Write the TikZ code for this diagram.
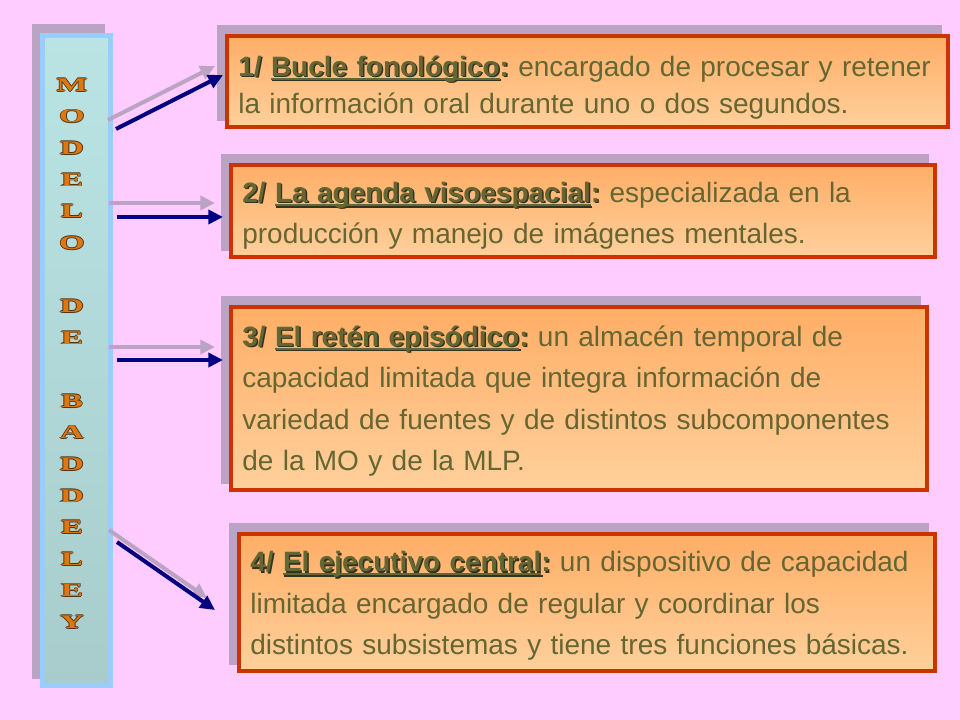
\documentclass[tikz,border=0pt]{standalone}
\usepackage{fontspec}
\setmainfont{Liberation Sans}
\newfontfamily\capsfont{Liberation Serif}
\usepackage{graphicx}
\usetikzlibrary{arrows.meta, shadows}
\frenchspacing

\definecolor{slidepink}{HTML}{FFCCFF}
\definecolor{slideshadow}{HTML}{BBA3C3}
\definecolor{bartop}{HTML}{BAE4E4}
\definecolor{barbottom}{HTML}{A8CCCC}
\definecolor{barrim}{HTML}{99CCFF}
\definecolor{boxrim}{HTML}{CC3300}
\definecolor{boxtop}{HTML}{FFAE66}
\definecolor{boxbottom}{HTML}{FFD09C}
\definecolor{olivetext}{HTML}{666633}
\definecolor{textshade}{HTML}{333322}
\definecolor{navyarrow}{HTML}{000080}
\definecolor{letterfill}{HTML}{DD7711}
\definecolor{letterrim}{HTML}{553311}

% letters of the side title, with a dark rim
\newcommand\outl[1]{%
  \rlap{\color{letterrim}\kern.4pt#1}%
  \rlap{\color{letterrim}\kern-.4pt#1}%
  \rlap{\color{letterrim}\raisebox{.6pt}{#1}}%
  \rlap{\color{letterrim}\raisebox{-.6pt}{#1}}%
  {\color{letterfill}#1}}
\newcommand\lt[1]{\scalebox{1.7}[1]{\outl{#1}}}
% headings of the boxes
\newcommand\undr[1]{\setbox0\hbox{#1}\rlap{\rule[-2.7pt]{\wd0}{1.5pt}}\box0}
\newcommand\shd[1]{\rlap{\color{textshade}\kern1.1pt\raisebox{-1.1pt}{#1}}#1}
\newcommand\hd[2]{\shd{{\bfseries #1/ \undr{#2}:}}}

\tikzset{
    >={Triangle[length=11pt,width=10.5pt]},
    slide shadow/.style={general shadow={fill=slideshadow, draw=slideshadow,
        shadow xshift=-6pt, shadow yshift=6.5pt}},
    box/.style={draw=boxrim, line width=3.4pt, top color=boxtop,
        bottom color=boxbottom, anchor=north west, align=left, outer sep=0pt,
        inner xsep=8.5pt, inner ysep=0pt, text=olivetext,
        font=\fontsize{21}{31}\selectfont, slide shadow},
    bar/.style={draw=barrim, line width=3.75pt, top color=bartop,
        bottom color=barbottom, minimum width=51pt,
        minimum height=487.5pt, outer sep=0pt, slide shadow},
    title/.style={align=center, inner sep=0pt,
        font=\capsfont\bfseries\fontsize{14.5}{23.7}\selectfont},
    link/.style={->, line width=3pt, draw=navyarrow, fill=navyarrow},
    link shadow/.style={->, line width=3pt, draw=slideshadow,
        fill=slideshadow, transform canvas={shift={#1}}}
}

\begin{document}
\begin{tikzpicture}[x=0.75pt, y=-0.75pt]
    \fill[slidepink] (0,0) rectangle (960,720);
    \useasboundingbox (0,0) rectangle (960,720);

    % side bar
    \node[bar] (bar) at (76.5,360.5) {};
    \node[title] (title) at (72,353.5) {\lt M\\\lt O\\\lt D\\\lt E\\\lt L\\\lt O\\[23.7pt]
        \lt D\\\lt E\\[23.7pt]
        \lt B\\\lt A\\\lt D\\\lt D\\\lt E\\\lt L\\\lt E\\\lt Y};

    % the four components
    \node[box, minimum width=540.75pt, minimum height=68.25pt, text width=523.75pt,
        font=\fontsize{21}{28}\selectfont, text depth=23.5pt] (b1) at (227,36)
        {\hd{1}{Bucle fonológico} encargado de procesar y retener\\
         la información oral durante uno o dos segundos.};
    \node[box, minimum width=528pt, minimum height=69pt, text width=511pt,
        text depth=28pt] (b2) at (231,165)
        {\hd{2}{La agenda visoespacial} especializada en la\\
         producción y manejo de imágenes mentales.};
    \node[box, minimum width=522pt, minimum height=137.25pt, text width=505pt,
        text depth=93.6pt] (b3) at (231,307)
        {\hd{3}{El retén episódico} un almacén temporal de\\
         capacidad limitada que integra información de\\
         variedad de fuentes y de distintos subcomponentes\\
         de la MO y de la MLP.};
    \node[box, minimum width=522pt, minimum height=102.75pt, text width=505pt,
        text depth=61.2pt] (b4) at (239,534)
        {\hd{4}{El ejecutivo central} un dispositivo de capacidad\\
         limitada encargado de regular y coordinar los\\
         distintos subsistemas y tiene tres funciones básicas.};

    % arrows from the bar
    \coordinate (from1) at (116,129);
    \coordinate (from2) at (117,217);
    \coordinate (from3) at (117,360);
    \coordinate (from4) at (117,542);
    \draw[link shadow={(-8,-9)}] (from1) -- ([shift={(-4,-6.5)}]b1.west);
    \draw[link] (from1) -- ([shift={(-4,-6.5)}]b1.west);
    \draw[link shadow={(-8,-14)}] (from2) -- ([shift={(-8,6)}]b2.west);
    \draw[link] (from2) -- ([shift={(-8,6)}]b2.west);
    \draw[link shadow={(-8,-13)}] (from3) -- ([shift={(-8,-38.5)}]b3.west);
    \draw[link] (from3) -- ([shift={(-8,-38.5)}]b3.west);
    \draw[link shadow={(-8,-12)}] (from4) -- ([shift={(-24,7.5)}]b4.west);
    \draw[link] (from4) -- ([shift={(-24,7.5)}]b4.west);
\end{tikzpicture}
\end{document}
